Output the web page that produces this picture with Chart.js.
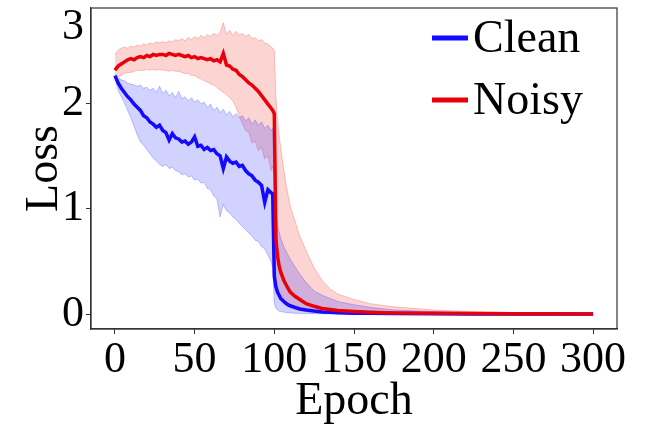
<!DOCTYPE html>
<html>
<head>
<meta charset="utf-8">
<script src="https://cdn.jsdelivr.net/npm/chart.js@4.4.1/dist/chart.umd.min.js"></script>
<style>
  html, body { margin: 0; padding: 0; background: #fff; }
</style>
</head>
<body>
<canvas id="chart" width="646" height="425"></canvas>
<script>
// epochs sampled from the curves (denser around the drop at epoch 100)
const epochs = [
  0, 2, 4, 6, 8, 10, 12, 14, 16, 18,
  20, 22, 24, 26, 28, 30, 32, 34, 36, 38,
  40, 42, 44, 46, 48, 50, 52, 54, 56, 58,
  60, 62, 64, 66, 68, 70, 72, 74, 76, 78,
  80, 82, 84, 86, 88, 90, 92, 94, 96, 98,
  99, 100, 101, 102, 103, 104, 106, 108, 110, 113,
  116, 120, 125, 130, 135, 140, 150, 160, 175, 200,
  225, 250, 275, 300
];

const cleanMean = [
  2.26, 2.19, 2.14, 2.10, 2.06, 2.03, 1.99, 1.96, 1.93, 1.88,
  1.86, 1.82, 1.80, 1.77, 1.79, 1.74, 1.72, 1.65, 1.71, 1.67,
  1.66, 1.63, 1.64, 1.61, 1.63, 1.68, 1.59, 1.60, 1.56, 1.58,
  1.55, 1.56, 1.52, 1.50, 1.38, 1.49, 1.45, 1.43, 1.44, 1.40,
  1.41, 1.36, 1.33, 1.31, 1.27, 1.25, 1.22, 1.06, 1.18, 1.15,
  1.14, 0.36, 0.26, 0.21, 0.18, 0.15, 0.12, 0.095, 0.08, 0.065,
  0.05, 0.04, 0.03, 0.022, 0.018, 0.014, 0.01, 0.008, 0.006, 0.004,
  0.003, 0.003, 0.002, 0.002
];
const cleanHigh = [
  2.27, 2.24, 2.22, 2.21, 2.19, 2.18, 2.17, 2.16, 2.17, 2.14,
  2.15, 2.12, 2.14, 2.10, 2.16, 2.09, 2.12, 2.07, 2.10, 2.05,
  2.11, 2.04, 2.06, 2.02, 2.05, 2.01, 2.03, 1.99, 2.01, 1.96,
  1.99, 1.93, 1.96, 1.91, 1.94, 1.89, 1.92, 1.87, 1.90, 1.86,
  1.88, 1.83, 1.86, 1.80, 1.84, 1.79, 1.82, 1.76, 1.79, 1.74,
  1.76, 1.20, 0.95, 0.85, 0.78, 0.72, 0.64, 0.58, 0.52, 0.45,
  0.38, 0.30, 0.22, 0.18, 0.15, 0.12, 0.09, 0.065, 0.04, 0.025,
  0.015, 0.01, 0.007, 0.005
];
const cleanLow = [
  2.25, 2.12, 2.06, 2.00, 1.93, 1.86, 1.78, 1.70, 1.63, 1.60,
  1.56, 1.52, 1.48, 1.45, 1.42, 1.40, 1.42, 1.38, 1.39, 1.36,
  1.35, 1.32, 1.33, 1.30, 1.31, 1.27, 1.28, 1.24, 1.25, 1.19,
  1.18, 1.12, 1.09, 0.92, 1.04, 0.98, 0.96, 0.92, 0.90, 0.86,
  0.83, 0.80, 0.77, 0.74, 0.70, 0.69, 0.64, 0.62, 0.56, 0.50,
  0.44, 0.10, 0.06, 0.04, 0.03, 0.025, 0.02, 0.015, 0.012, 0.01,
  0.008, 0.006, 0.005, 0.004, 0.003, 0.003, 0.002, 0.002, 0.001, 0.001,
  0.001, 0.001, 0.001, 0.001
];

const noisyMean = [
  2.31, 2.35, 2.37, 2.39, 2.41, 2.42, 2.41, 2.43, 2.44, 2.43,
  2.45, 2.44, 2.46, 2.45, 2.46, 2.46, 2.45, 2.47, 2.46, 2.45,
  2.46, 2.45, 2.44, 2.45, 2.43, 2.44, 2.42, 2.43, 2.42, 2.41,
  2.42, 2.40, 2.41, 2.39, 2.47, 2.36, 2.35, 2.32, 2.31, 2.27,
  2.25, 2.22, 2.19, 2.17, 2.14, 2.11, 2.07, 2.03, 1.99, 1.95,
  1.93, 1.90, 0.72, 0.55, 0.46, 0.40, 0.32, 0.26, 0.21, 0.17,
  0.14, 0.10, 0.075, 0.055, 0.045, 0.035, 0.025, 0.018, 0.012, 0.008,
  0.006, 0.005, 0.004, 0.003
];
const noisyHigh = [
  2.46, 2.50, 2.52, 2.53, 2.52, 2.54, 2.53, 2.55, 2.54, 2.56,
  2.55, 2.57, 2.56, 2.58, 2.57, 2.58, 2.57, 2.59, 2.58, 2.60,
  2.59, 2.61, 2.59, 2.62, 2.60, 2.63, 2.61, 2.64, 2.62, 2.65,
  2.63, 2.66, 2.64, 2.67, 2.76, 2.65, 2.69, 2.64, 2.68, 2.64,
  2.66, 2.63, 2.65, 2.61, 2.62, 2.59, 2.60, 2.57, 2.56, 2.53,
  2.52, 2.50, 2.05, 1.85, 1.70, 1.58, 1.36, 1.18, 1.02, 0.88,
  0.74, 0.60, 0.44, 0.32, 0.24, 0.19, 0.14, 0.10, 0.07, 0.04,
  0.025, 0.015, 0.01, 0.006
];
const noisyLow = [
  2.28, 2.25, 2.26, 2.28, 2.29, 2.29, 2.30, 2.31, 2.31, 2.31,
  2.32, 2.31, 2.32, 2.31, 2.32, 2.31, 2.31, 2.30, 2.31, 2.30,
  2.30, 2.29, 2.28, 2.28, 2.26, 2.26, 2.24, 2.23, 2.21, 2.20,
  2.18, 2.17, 2.15, 2.12, 2.10, 2.08, 2.05, 2.02, 1.96, 1.88,
  1.80, 1.74, 1.72, 1.62, 1.64, 1.55, 1.58, 1.47, 1.50, 1.36,
  1.40, 1.30, 0.30, 0.22, 0.17, 0.14, 0.10, 0.08, 0.06, 0.045,
  0.035, 0.025, 0.02, 0.015, 0.012, 0.01, 0.008, 0.006, 0.004, 0.003,
  0.002, 0.002, 0.001, 0.001
];

const xTicks = [0, 50, 100, 150, 200, 250, 300];
const yTicks = [0, 1, 2, 3];
const yTickLabels = ['0', '1', '2', '3'];
const seriesNames = ['Clean', 'Noisy'];

const FONT = "'Liberation Serif', 'Times New Roman', serif";
const toPoints = arr => arr.map((v, i) => ({ x: epochs[i], y: v }));

// frame around the plot area + legend inside it (top right)
const framePlugin = {
  id: 'frame',
  afterDraw(chart) {
    const { ctx, chartArea: a } = chart;
    ctx.save();
    ctx.strokeStyle = '#333';
    ctx.lineWidth = 1.2;
    ctx.strokeRect(a.left, a.top, a.right - a.left, a.bottom - a.top);

    const items = [
      { label: seriesNames[0], color: 'rgb(20,10,255)' },
      { label: seriesNames[1], color: 'rgb(232,0,10)' }
    ];
    ctx.font = '46px ' + FONT;
    ctx.textBaseline = 'middle';
    items.forEach((it, i) => {
      const y = a.top + 30 + i * 62;
      ctx.strokeStyle = it.color;
      ctx.lineWidth = 5;
      ctx.beginPath();
      ctx.moveTo(a.right - 185, y);
      ctx.lineTo(a.right - 149, y);
      ctx.stroke();
      ctx.fillStyle = '#000';
      ctx.fillText(it.label, a.right - 144, y + 2);
    });
    ctx.restore();
  }
};

const band = (data, color, target) => ({
  data: toPoints(data),
  borderColor: color.replace('0.2)', '0.25)'),
  borderWidth: 1,
  backgroundColor: color,
  pointRadius: 0,
  fill: target === undefined ? false : target,
  order: 2
});

new Chart(document.getElementById('chart'), {
  type: 'line',
  data: {
    datasets: [
      band(cleanHigh, 'rgba(30,30,255,0.2)', 1),
      band(cleanLow, 'rgba(30,30,255,0.2)'),
      band(noisyHigh, 'rgba(240,40,30,0.2)', 3),
      band(noisyLow, 'rgba(240,40,30,0.2)'),
      {
        label: seriesNames[0],
        data: toPoints(cleanMean),
        borderColor: 'rgb(20,10,255)',
        borderWidth: 3.5,
        pointRadius: 0,
        fill: false,
        order: 1
      },
      {
        label: seriesNames[1],
        data: toPoints(noisyMean),
        borderColor: 'rgb(232,0,10)',
        borderWidth: 3.5,
        pointRadius: 0,
        fill: false,
        order: 0
      }
    ]
  },
  options: {
    responsive: false,
    animation: false,
    layout: { padding: { top: 8, right: 29, left: 0, bottom: 0 } },
    plugins: {
      legend: { display: false },
      tooltip: { enabled: false }
    },
    scales: {
      x: {
        type: 'linear',
        min: -15,
        max: 315,
        afterBuildTicks: s => { s.ticks = xTicks.map(v => ({ value: v })); },
        afterFit: s => { s.height = 96; s.paddingLeft = 0; s.paddingRight = 0; },
        grid: { drawOnChartArea: false, tickLength: 5, tickColor: '#333' },
        border: { color: '#333', width: 1.2 },
        ticks: { font: { family: FONT, size: 44 }, color: '#000', padding: 0, maxRotation: 0 },
        title: { display: true, text: 'Epoch', font: { family: FONT, size: 46, lineHeight: 1 }, color: '#000', padding: { top: 0, bottom: 0 } }
      },
      y: {
        min: -0.14,
        max: 2.9,
        // the "3" label sits just inside the top of the axes, as in the figure
        afterBuildTicks: s => { s.ticks = yTicks.map(v => ({ value: Math.min(v, 2.72) })); },
        afterFit: s => { s.width = 91; s.paddingTop = 0; s.paddingBottom = 0; },
        grid: {
          drawOnChartArea: false,
          tickLength: 5,
          tickColor: c => (c.tick && c.tick.value > 2.5 ? 'rgba(0,0,0,0)' : '#333')
        },
        border: { color: '#333', width: 1.2 },
        ticks: {
          font: { family: FONT, size: 44 },
          color: '#000',
          padding: 2,
          callback: (v, i) => yTickLabels[i]
        },
        title: { display: true, text: 'Loss', font: { family: FONT, size: 46, lineHeight: 1 }, color: '#000', padding: { top: 22, bottom: 0 } }
      }
    }
  },
  plugins: [framePlugin]
});
</script>
</body>
</html>
